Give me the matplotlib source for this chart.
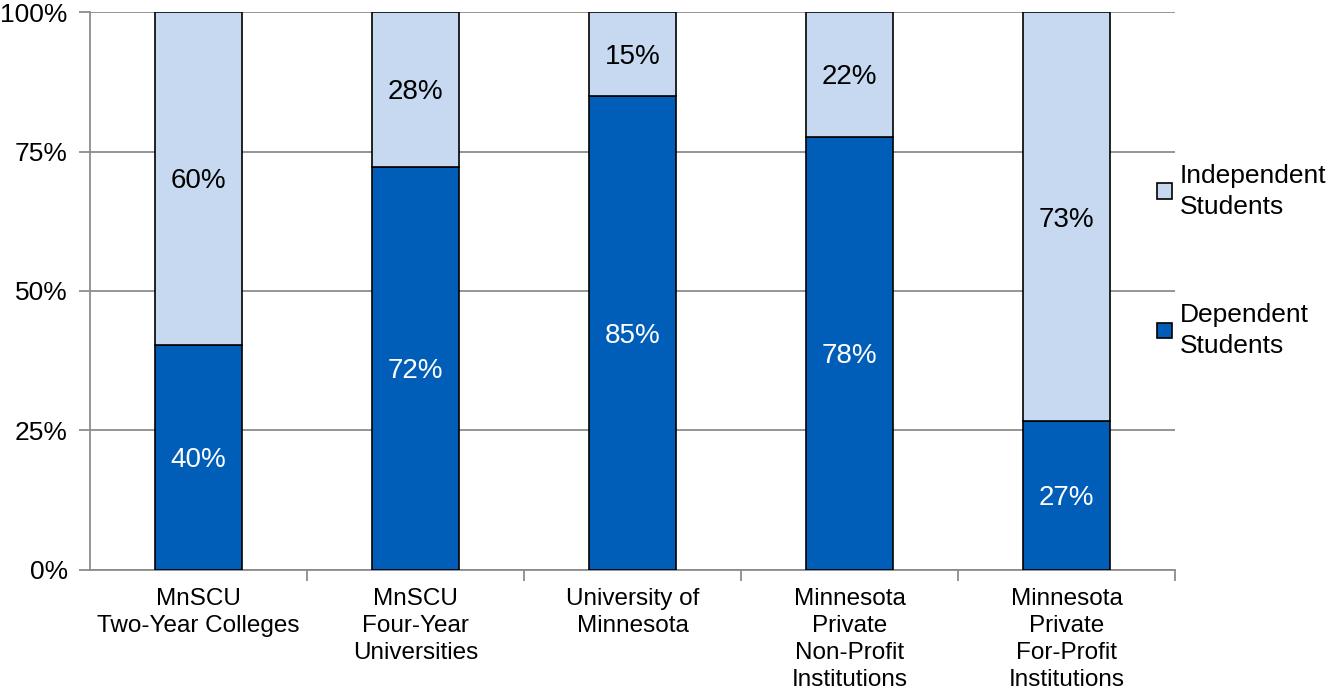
import matplotlib.pyplot as plt
import numpy as np

plt.rcParams['font.family'] = ['Liberation Sans', 'DejaVu Sans']

# categories and shares (percent)
categories = ['MnSCU\nTwo-Year Colleges', 'MnSCU\nFour-Year\nUniversities',
              'University of\nMinnesota', 'Minnesota\nPrivate\nNon-Profit\nInstitutions',
              'Minnesota\nPrivate\nFor-Profit\nInstitutions']
dependent = [40.4, 72.3, 84.9, 77.6, 26.7]
independent = [100 - d for d in dependent]
y_ticks = [0, 25, 50, 75, 100]
y_labels = ['0%', '25%', '50%', '75%', '100%']

dark_blue = '#005EB8'
light_blue = '#C6D9F1'
grid_gray = '#8C8C8C'

fig = plt.figure(figsize=(13.3, 6.94), dpi=100)
ax = fig.add_axes([0.0677, 0.1787, 0.8158, 0.804])

x = np.arange(len(categories))
width = 0.405

ax.bar(x, dependent, width, color=dark_blue, edgecolor='black', linewidth=1.2,
       label='Dependent\nStudents', zorder=3)
ax.bar(x, independent, width, bottom=dependent, color=light_blue, edgecolor='black',
       linewidth=1.2, label='Independent\nStudents', zorder=3)

# value labels in the middle of each segment
for i in range(len(categories)):
    ax.text(x[i], dependent[i] / 2, '%d%%' % round(dependent[i]), ha='center',
            va='center_baseline', color='white', fontsize=20, zorder=4)
    ax.text(x[i], dependent[i] + independent[i] / 2, '%d%%' % round(independent[i]),
            ha='center', va='center_baseline', color='black', fontsize=20, zorder=4)

ax.set_xlim(-0.5, len(categories) - 0.5)
ax.set_ylim(0, 100)

ax.set_yticks(y_ticks)
ax.set_yticklabels(y_labels, fontsize=19)
ax.yaxis.grid(True, color=grid_gray, linewidth=1.3, zorder=0)
ax.tick_params(axis='y', length=8, width=1.3, color=grid_gray, pad=8)

ax.set_xticks(x)
ax.set_xticklabels(categories, fontsize=17.5, linespacing=1.3)
ax.tick_params(axis='x', which='major', length=0, pad=13)
ax.set_xticks(np.arange(0.5, len(categories)), minor=True)
ax.tick_params(axis='x', which='minor', length=8, width=1.3, color=grid_gray)

for side in ['top', 'right']:
    ax.spines[side].set_visible(False)
for side in ['left', 'bottom']:
    ax.spines[side].set_color(grid_gray)
    ax.spines[side].set_linewidth(1.3)

handles, labels = ax.get_legend_handles_labels()
leg = fig.legend(handles[::-1], labels[::-1], loc='upper left', bbox_to_anchor=(0.862, 0.779),
                 frameon=False, fontsize=19, handlelength=0.55, handleheight=0.55,
                 handletextpad=0.3, labelspacing=3.2, borderaxespad=0)
for t in leg.get_texts():
    t.set_linespacing(1.35)

fig.savefig('out.png', dpi=100)
